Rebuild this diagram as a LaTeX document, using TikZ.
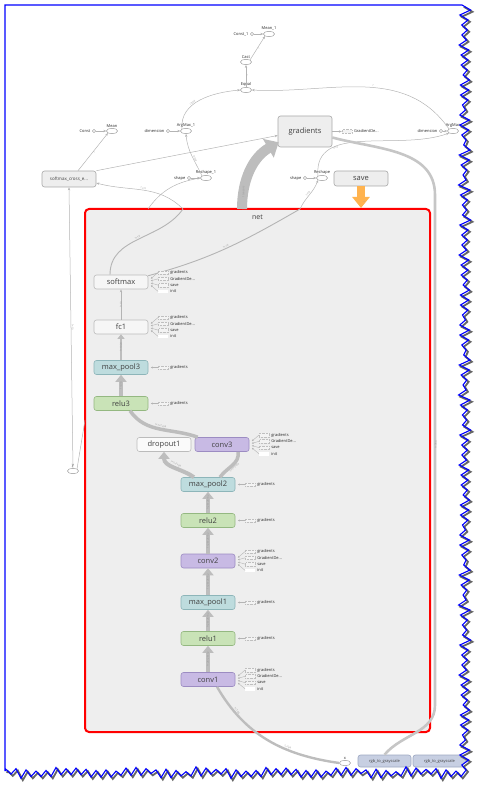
\documentclass[tikz,border=0pt]{standalone}
\usepackage{fontspec}
\setmainfont{Open Sans}
\usetikzlibrary{shapes.geometric}
\usetikzlibrary{positioning}
\usetikzlibrary{calc}
\usetikzlibrary{arrows.meta}

\definecolor{netfill}{HTML}{EEEEEE}
\definecolor{plainfill}{HTML}{F6F6F6}
\definecolor{annfill}{HTML}{F3F3F3}
\definecolor{boxline}{HTML}{BBBBBB}
\definecolor{edgegray}{HTML}{B4B4B4}
\definecolor{flowgray}{HTML}{BDBDBD}
\definecolor{sidegray}{HTML}{C6C6C6}
\definecolor{convfill}{HTML}{C8BAE4}
\definecolor{convline}{HTML}{9C8CC2}
\definecolor{relufill}{HTML}{C9E3B7}
\definecolor{reluline}{HTML}{94B881}
\definecolor{poolfill}{HTML}{BEDCDE}
\definecolor{poolline}{HTML}{8DB5B9}
\definecolor{rgbfill}{HTML}{C7CFE2}
\definecolor{rgbline}{HTML}{9DA8C2}
\definecolor{saveorange}{HTML}{FFB34F}
\definecolor{tornblue}{HTML}{0000FF}

\newcommand{\gdname}{GradientDe...}
% torn right and bottom edge of the screenshot
\newcommand{\tornmore}{%
  \foreach \i in {1,...,153}{ -- ({464+(2*mod(\i,2)-1)*(1.5+mod(13*\i,7)*0.65)+mod(5*\i,3)*0.6},{5+5*\i}) }
  \foreach \i in {1,...,92}{ -- ({466-5*\i},{772+(2*mod(\i,2)-1)*(1.5+mod(11*\i,7)*0.6)+mod(7*\i,3)*0.6}) }
  -- (5,771)}

\tikzset{
  op/.style={rounded corners=2.5pt, draw=boxline, line width=0.6pt, minimum width=54pt,
    minimum height=14pt, inner sep=0pt, font=\fontsize{7.5}{8}\selectfont, text=black!75},
  plainop/.style={op, fill=plainfill},
  convop/.style={op, fill=convfill, draw=convline},
  reluop/.style={op, fill=relufill, draw=reluline},
  poolop/.style={op, fill=poolfill, draw=poolline},
  bigop/.style={op, fill=netfill, draw=boxline!90!black},
  rgbop/.style={op, fill=rgbfill, draw=rgbline, minimum width=53pt, minimum height=12pt,
    font=\fontsize{4}{4}\selectfont},
  netbox/.style={draw=red, line width=2pt, fill=netfill, rounded corners=4pt, inner sep=0pt},
  opell/.style={ellipse, draw=black!45, fill=white, line width=0.4pt, minimum width=11pt,
    minimum height=5.5pt, inner sep=0pt},
  cdot/.style={circle, draw=black!45, fill=white, line width=0.4pt, minimum size=3.2pt, inner sep=0pt},
  smalltext/.style={font=\fontsize{4}{4}\selectfont, text=black!85, inner sep=0.6pt},
  elabel/.style={font=\fontsize{2.6}{3}\selectfont, text=black!40, inner sep=0.4pt},
  link/.style={draw=edgegray, line width=0.5pt, -{Stealth[length=3pt,width=2.4pt]}},
  thinedge/.style={draw=edgegray, line width=0.9pt},
  midflow/.style={draw=flowgray, line width=2.2pt, -{Triangle[length=4.5pt,width=7pt]}},
  flow/.style={draw=flowgray, line width=4pt, -{Triangle[length=7pt,width=11pt]}},
  flowline/.style={draw=flowgray, line width=3.5pt},
  bigflow/.style={draw=flowgray, line width=10pt, -{Triangle[length=12pt,width=21pt]}},
  savearrow/.style={draw=saveorange, line width=8pt, -{Triangle[length=11pt,width=17pt]}},
  sideline/.style={draw=sidegray, line width=2.6pt},
  annbox/.style={draw=black!25, densely dotted, fill=annfill, minimum width=10pt,
    minimum height=3.6pt, inner sep=0pt},
  initbox/.style={fill=white, minimum width=10pt, minimum height=3.6pt, inner sep=0pt},
  annedge/.style={draw=edgegray, line width=0.4pt, {Stealth[length=2pt,width=2pt]}-},
}

\begin{document}
\begin{tikzpicture}[x=1pt,y=-1pt]
\useasboundingbox (0,0) rectangle (482,791);

\begin{scope}
\clip (5,771) -- (5,5) -- (462,5) \tornmore -- cycle;

% top cluster
\node[cdot] (const1) at (252,34) {};
\node[smalltext, left=1pt of const1] (const1name) {Const\_1};
\node[opell, label={[smalltext]above:Mean\_1}] (mean1) at (269,34) {};
\node[opell, label={[smalltext]above:Cast}] (cast) at (246,62) {};
\node[opell, label={[smalltext]above:Equal}] (equal) at (246,90) {};
\draw[link] (const1) -- (mean1);
\draw[link] (cast.north east) -- node[elabel, sloped, below]{?} (mean1.south west);
\draw[link] (equal) -- node[elabel, right]{?} (cast);

\node[cdot] (const) at (94,131) {};
\node[smalltext, left=1pt of const] (constname) {Const};
\node[opell, label={[smalltext]above:Mean}] (mean) at (112,131) {};
\draw[link] (const) -- (mean);

\node[cdot] (dim1) at (168,131) {};
\node[smalltext, left=1pt of dim1] (dim1name) {dimension};
\node[opell, label={[smalltext]above:ArgMax\_1}] (argmax1) at (186,131) {};
\draw[link] (dim1) -- (argmax1);

\node[cdot] (dim2) at (441,131) {};
\node[smalltext, left=1pt of dim2] (dim2name) {dimension};
\node[opell, label={[smalltext]above:ArgMax}] (argmax) at (453,131) {};
\draw[link] (dim2) -- (argmax);

\draw[link] (argmax1.north west) to[out=95,in=185] node[elabel, sloped, above, pos=0.4]{int64} (equal.west);
\draw[link] (argmax.north west) to[out=125,in=-3] node[elabel, sloped, above, pos=0.45]{?} (equal.east);

\node[bigop, minimum height=31pt] (gradients) at (305,131.5) {gradients};
\node[annbox] (gdbox) at (347,131.5) {};
\node[smalltext, right=1pt of gdbox] (gdname) {GradientDe...};
\draw[link] (gradients) -- (gdbox);

\node[bigop, minimum height=16pt, font=\fontsize{4.5}{5}\selectfont] (softmaxce) at (69,179) {softmax\_cross\_e...};
\draw[link] ($(softmaxce.north)+(9,0)$) -- node[elabel, sloped, below]{?} (mean.south west);
\draw[link] (softmaxce.north east) -- ($(gradients.west)+(0,4)$);

\node[cdot] (shape1) at (189,178) {};
\node[smalltext, left=1pt of shape1] (shape1name) {shape};
\node[opell, label={[smalltext]above:Reshape\_1}] (reshape1) at (206,178) {};
\draw[link] (shape1) -- (reshape1);
\draw[link] (reshape1.north west) to[out=115,in=-85] node[elabel, sloped, above, pos=0.4]{int64} (argmax1.south);

\node[cdot] (shape) at (305,178) {};
\node[smalltext, left=1pt of shape] (shapename) {shape};
\node[opell, label={[smalltext]above:Reshape}] (reshape) at (322,178) {};
\draw[link] (shape) -- (reshape);
\draw[link] (reshape.north west) to[out=95,in=200] node[elabel, sloped, below, pos=0.3]{?×10} (argmax.south west);

\node[bigop, minimum height=15pt] (save) at (361,178.5) {save};

% inputs at the bottom
\node[rgbop] (rgb1) at (384.5,761) {rgb\_to\_grayscale};
\node[rgbop] (rgb2) at (439.5,761) {rgb\_to\_grayscale};
\node[opell, label={[smalltext]above:x}] (xin) at (345,763) {};
\node[opell, label={[smalltext]above:y}] (yin) at (73,471) {};

% net group
\node[netbox, minimum width=345pt, minimum height=523pt] (net) at (257.5,470.5) {};
\node[font=\fontsize{7}{7}\selectfont, text=black!75, below=3.5pt of net.north] (netname) {net};

\coordinate (outsm) at (183,209);
\coordinate (outrs1) at (148,209);
\coordinate (outrs) at (300,209);
\coordinate (outgr) at (242,209);
\coordinate (iny) at (85,420);
\coordinate (bendtop) at (435,195);
\coordinate (bendbot) at (435,705);

\draw[savearrow] (save.south) -- node[elabel, right=3pt, rotate=-90]{?} (save.south |- net.north);
\draw[bigflow] (outgr) to[out=90,in=210] node[elabel, rotate=90, pos=0.2]{1 tensors} ($(gradients.south west)+(1,-5)$);
\draw[sideline] ($(gradients.east)+(0,6)$) to[out=-15,in=90] (bendtop) -- node[elabel, rotate=90, right=1pt]{?×784} (bendbot) to[out=-90,in=50] (rgb1.north);

\node[plainop] (softmax) at (121,282) {softmax};
\node[plainop] (fc1) at (121,327) {fc1};
\node[poolop] (mpool3) at (121,367.5) {max\_pool3};
\node[reluop] (relu3) at (121,403.5) {relu3};
\node[plainop, fill=white!98!black] (dropout1) at (164,444.5) {dropout1};
\node[convop] (conv3) at (222,444.5) {conv3};
\node[poolop] (mpool2) at (208,484.5) {max\_pool2};
\node[reluop] (relu2) at (208,520.5) {relu2};
\node[convop] (conv2) at (208,561) {conv2};
\node[poolop] (mpool1) at (208,602.5) {max\_pool1};
\node[reluop] (relu1) at (208,638.5) {relu1};
\node[convop] (conv1) at (208,679.5) {conv1};

% data flow inside net
\foreach \a/\b in {conv1/relu1, relu1/mpool1, mpool1/conv2, conv2/relu2, relu2/mpool2}
  \draw[flow] (\a) -- node[elabel, rotate=90]{?×28×28×32} (\b);
\draw[flow] ($(mpool2.north)+(-14,0)$) to[out=145,in=-90] node[elabel, sloped, above]{?×7×7×64} (dropout1.south);
\draw[flowline] ($(mpool2.north)+(12,0)$) to[out=55,in=-80] node[elabel, sloped, below]{?×7×7×64} ($(conv3.south)+(16,0)$);
\draw[flowline] ($(conv3.north west)+(3,0)$) to[out=160,in=-55] node[elabel, sloped, above]{?×7×7×64} ($(relu3.south)+(9,0)$);
\draw[flow] (relu3) -- node[elabel, rotate=90]{?×4×4} (mpool3);
\draw[midflow] (mpool3) -- node[elabel, rotate=90]{?×1024} (fc1);
\draw[thinedge, -{Stealth[length=3pt,width=2.4pt]}] (fc1) -- node[elabel, rotate=90]{?×10} (softmax);

% softmax leaves the net
\draw[thinedge] ($(softmax.north)+(-11,0)$) to[out=90,in=-125] node[elabel, sloped, above]{?×10} (outsm);
\draw[thinedge] ($(softmax.north east)+(0,1)$) to[out=15,in=-150] node[elabel, sloped, above]{?×10} (outrs);
\draw[link] (outsm) to[out=135,in=-15] node[elabel, sloped, above]{?×10} ($(softmaxce.east)+(0,4)$);
\draw[link] (outrs1) to[out=55,in=190] (reshape1.west);
\draw[link] (outrs) to[out=65,in=-110] node[elabel, sloped, above]{?×10} (reshape.south west);

% side annotations
\foreach \n in {softmax,fc1,conv3,conv2,conv1}{
  \foreach \lbl/\bst [count=\k] in {gradients/annbox,\gdname/annbox,save/annbox,init/initbox}{
    \node[\bst] (\n-a\k) at ($(\n.east)+(15,{-15.8+6.3*\k})$) {};
    \node[smalltext, anchor=west] at ($(\n-a\k.east)+(1,0)$) {\lbl};
    \draw[annedge] ($(\n.east)+(2.5,{0.35*(-15.8+6.3*\k)})$) -- (\n-a\k.west);
  }
}
\foreach \n in {mpool3,relu3,mpool2,relu2,mpool1,relu1}{
  \node[annbox] (\n-a1) at ($(\n.east)+(15,0)$) {};
  \node[smalltext, anchor=west] at ($(\n-a1.east)+(1,0)$) {gradients};
  \draw[annedge] ($(\n.east)+(2.5,0)$) -- (\n-a1.west);
}

% input edges
\draw[link] (yin.north) -- node[elabel, sloped, above]{?×10} (softmaxce.south);
\draw[thinedge, line width=0.5pt] (yin.north east) -- (iny);
\draw[flowline, line width=2.4pt] (xin.west) to[out=172,in=-60] node[elabel, sloped, above, pos=0.35]{?×784} node[elabel, sloped, above, pos=0.8]{?×784} ($(conv1.south)+(9,0)$);
\end{scope}

% torn frame of the screenshot
\draw[shift={(1.8,1.8)}, black!60, line width=1.8pt] (462,5) \tornmore;
\draw[tornblue, line width=1.1pt] (5,771) -- (5,5) -- (462,5) \tornmore;
\end{tikzpicture}
\end{document}
